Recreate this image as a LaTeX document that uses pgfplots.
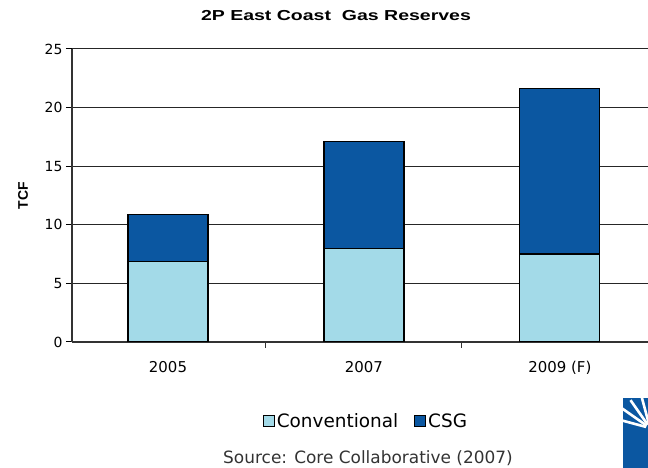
\documentclass[border=0pt]{standalone}
\usepackage{pgfplots}
\pgfplotsset{compat=1.18}
\usepackage{fontspec}
\setmainfont{DejaVu Sans}
\newfontfamily\titlefont[FakeStretch=1.35]{Liberation Sans Bold}
\newfontfamily\labelfont{Liberation Sans Bold}

\definecolor{convblue}{HTML}{A3DAE8}
\definecolor{csgblue}{HTML}{0B57A1}
\definecolor{axisgray}{HTML}{333333}

% Reserves by year (TCF)
\pgfplotstableread{
x  conv  csg
0  6.9   4.0
1  8.0   9.1
2  7.5   14.1
}\reserves

\begin{document}
\begin{tikzpicture}[x=1bp,y=1bp]
\useasboundingbox (0,0) rectangle (648,468);

% chart title
\node[font=\titlefont\fontsize{14.5}{16}\selectfont] at (336,452) {2P East Coast\ \ Gas Reserves};

\begin{axis}[
  at={(72bp,126bp)}, anchor=south west,
  scale only axis,
  width=576bp, height=293bp,
  ybar stacked,
  bar width=80bp,
  xmin=-0.49, xmax=2.45,
  ymin=0, ymax=25,
  ytick={0,5,...,25},
  xtick={0,1,2},
  xticklabels={2005,2007,2009 (F)},
  minor xtick={0.5,1.5},
  axis x line*=bottom,
  axis y line*=left,
  axis line style={axisgray, line width=1.4bp},
  tick align=outside,
  major tick length=6bp,
  minor tick length=6bp,
  major x tick style={draw=none},
  minor x tick style={axisgray, line width=1bp},
  major y tick style={black, line width=1bp},
  ymajorgrids,
  grid style={black!85, line width=1bp},
  /pgf/number format/assume math mode=true,
  ticklabel style={font=\fontsize{14}{16}\selectfont, text=black},
  xticklabel style={font=\fontsize{15}{17}\selectfont, yshift=-10bp},
  ylabel={\labelfont TCF},
  ylabel style={font=\fontsize{14}{16}\selectfont,
    at={(axis description cs:-0.085,0.5)}, anchor=center},
  legend columns=2,
  legend style={
    at={(axis description cs:0.5104,-0.2696)}, anchor=center,
    draw=none, fill=none,
    font=\fontsize{18.5}{20}\selectfont,
    /tikz/every even column/.append style={column sep=14bp},
  },
  legend image code/.code={
    \draw[#1, line width=0.9bp] (0bp,-5.5bp) rectangle (11bp,5.5bp);
  },
]
\addplot[fill=convblue, draw=black, line width=1.2bp] table[x=x, y=conv] {\reserves};
\addlegendentry{Conventional}
\addplot[fill=csgblue, draw=black, line width=1.2bp] table[x=x, y=csg] {\reserves};
\addlegendentry{CSG}
\end{axis}

% source line
\node[font=\fontsize{17}{19}\selectfont, text=axisgray] at (368,10) {Source: Core Collaborative (2007)};

% corner logo
\fill[csgblue] (623,0) rectangle (648,70);
\begin{scope}
  \clip (623,0) rectangle (648,70);
  \foreach \a in {105,125,145,165}
    \draw[white, line width=2.6bp] (650,40) ++(\a:4) -- ++(\a:30);
\end{scope}
\end{tikzpicture}
\end{document}
